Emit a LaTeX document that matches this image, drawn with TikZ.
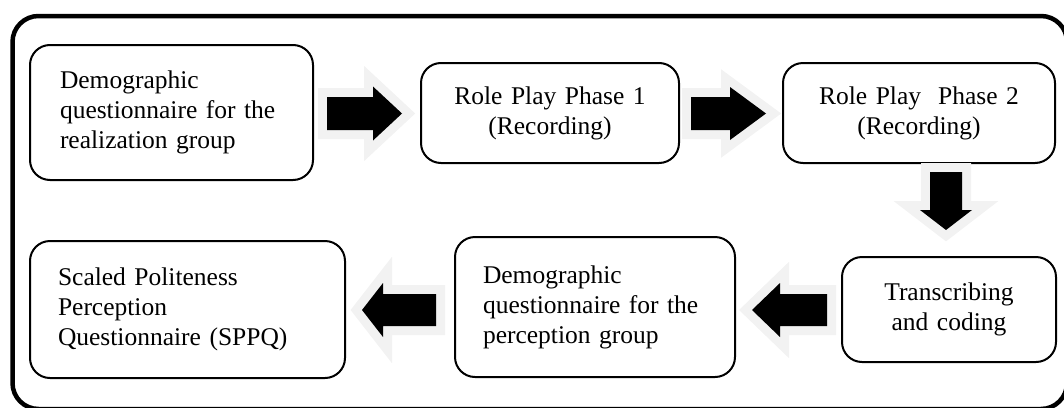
\documentclass[tikz,border=0pt]{standalone}
\usepackage{fontspec}
\setmainfont{Liberation Serif}
\definecolor{halo}{HTML}{F2F2F2}
\tikzset{
  flowbox/.style={draw=black, line width=2pt, rounded corners=20pt, fill=white,
    inner ysep=0pt, font=\fontsize{25.5}{30}\selectfont},
  halostroke/.style={draw=halo, fill=halo, line width=18pt, line join=miter},
  arrowfill/.style={fill=black},
}
\newcommand\blockarr[6]{%
  \begin{scope}[shift={(#1)}, rotate=#2]
    \path[halostroke] (0,-#5) -- (#3,-#5) -- (#3,-#6) -- (#4,0) -- (#3,#6) -- (#3,#5) -- (0,#5) -- cycle;
    \path[arrowfill] (0,-#5) -- (#3,-#5) -- (#3,-#6) -- (#4,0) -- (#3,#6) -- (#3,#5) -- (0,#5) -- cycle;
  \end{scope}}
\begin{document}
\begin{tikzpicture}[x=1pt, y=-1pt]
\useasboundingbox (0,0) rectangle (1064,407);
\begin{scope}
  \clip (0,0) rectangle (1064,407);
  \draw[line width=4.5pt, rounded corners=26pt] (12.5,16) rectangle (1067,409);
\end{scope}

\node[flowbox, inner xsep=30pt, text width=223pt, minimum height=135pt, align=left] (b1) at (171.5,112.5)
  {Demographic\\questionnaire for the\\realization group};
\node[flowbox, inner xsep=10pt, text width=238pt, minimum height=100pt, align=center] (b2) at (550,113)
  {Role Play Phase 1\\(Recording)};
\node[flowbox, inner xsep=10pt, text width=252pt, minimum height=100pt, align=center] (b3) at (919,113)
  {Role Play\ \ Phase 2\\(Recording)};
\node[flowbox, inner xsep=10pt, text width=194pt, minimum height=105pt, align=center] (b4) at (949,309.5)
  {Transcribing\\and coding};
\node[flowbox, inner xsep=28pt, text width=224pt, minimum height=140pt, align=left] (b5) at (595,307)
  {Demographic\\questionnaire for the\\perception group};
\node[flowbox, inner xsep=28pt, text width=259pt, minimum height=137pt, align=left] (b6) at (187.5,309.5)
  {Scaled Politeness\\Perception\\Questionnaire (SPPQ)};

\coordinate (a1) at (327,113.5);
\coordinate (a2) at (691,113.5);
\coordinate (a3) at (946,172);
\coordinate (a4) at (827,310);
\coordinate (a5) at (436,310);
\blockarr{a1}{0}{46}{75}{16.5}{27}
\blockarr{a2}{0}{39}{75}{16.5}{26.5}
\blockarr{a3}{-90}{38}{58}{16}{26}
\blockarr{a4}{180}{47}{75}{16}{27}
\blockarr{a5}{180}{53}{74}{16}{27}
\end{tikzpicture}
\end{document}
